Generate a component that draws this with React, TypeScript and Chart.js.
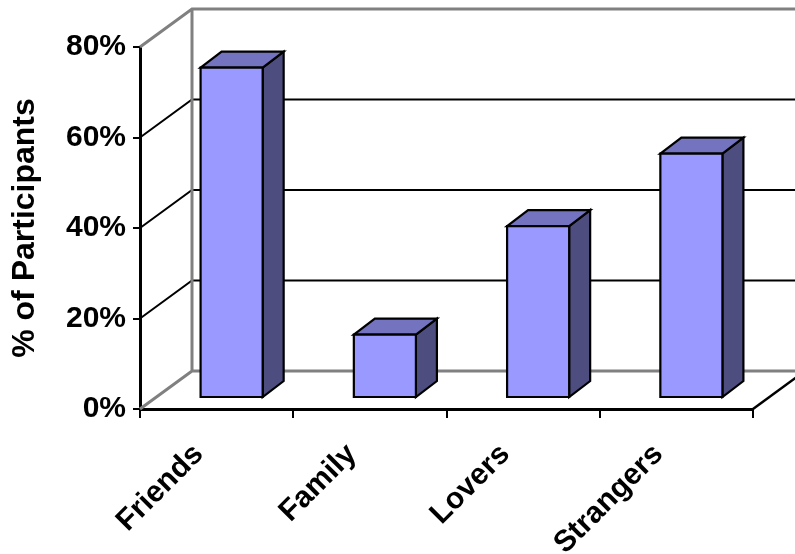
import { useEffect, useRef } from 'react';
import { Chart, registerables } from 'chart.js';

Chart.register(...registerables);

const categories = ['Friends', 'Family', 'Lovers', 'Strangers'];
const participantPct = [73, 14, 38, 54];
const yTickValues = [0, 20, 40, 60, 80];
const yAxisTitle = '% of Participants';

const FONT = '"Liberation Sans", Arial, Helvetica, sans-serif';
const FRONT = '#9999FF';
const TOP = '#7373BF';
const SIDE = '#4D4D80';
const WALL = { dx: 52, dy: -38 };
const BAR_SHIFT = { dx: 15, dy: -11 };
const BAR_DEPTH = { dx: 21, dy: -16 };

const excel3d = {
  id: 'excel3d',
  beforeDatasetsDraw(chart: any) {
    const { ctx, chartArea: a, scales } = chart;
    const y = scales.y;
    const L = a.left;
    const R = a.right;
    const B = y.getPixelForValue(yTickValues[0]);
    const T = y.getPixelForValue(yTickValues[yTickValues.length - 1]);
    const far = chart.width + 40;
    ctx.save();
    ctx.lineCap = 'butt';
    ctx.lineJoin = 'miter';
    ctx.strokeStyle = '#000';
    ctx.lineWidth = 2;
    yTickValues.slice(1, -1).forEach((v) => {
      const py = y.getPixelForValue(v);
      ctx.beginPath();
      ctx.moveTo(L, py);
      ctx.lineTo(L + WALL.dx, py + WALL.dy);
      ctx.lineTo(far, py + WALL.dy);
      ctx.stroke();
    });
    ctx.strokeStyle = '#808080';
    ctx.lineWidth = 3;
    ctx.beginPath();
    ctx.moveTo(L, T);
    ctx.lineTo(L + WALL.dx, T + WALL.dy);
    ctx.lineTo(far, T + WALL.dy);
    ctx.moveTo(L + WALL.dx, T + WALL.dy);
    ctx.lineTo(L + WALL.dx, B + WALL.dy);
    ctx.moveTo(L, B);
    ctx.lineTo(L + WALL.dx, B + WALL.dy);
    ctx.lineTo(far, B + WALL.dy);
    ctx.stroke();
    ctx.strokeStyle = '#000';
    ctx.lineWidth = 2.5;
    ctx.beginPath();
    ctx.moveTo(R, B);
    ctx.lineTo(R + WALL.dx, B + WALL.dy);
    ctx.stroke();
    ctx.restore();
  },
  afterDatasetsDraw(chart: any) {
    const { ctx } = chart;
    const meta = chart.getDatasetMeta(0);
    ctx.save();
    ctx.lineWidth = 2.2;
    ctx.strokeStyle = '#000';
    ctx.lineJoin = 'miter';
    meta.data.forEach((el: any) => {
      const p = el.getProps(['x', 'y', 'base', 'width'], true);
      const l = p.x - p.width / 2 + BAR_SHIFT.dx;
      const r = p.x + p.width / 2 + BAR_SHIFT.dx;
      const t = p.y + BAR_SHIFT.dy;
      const b = p.base + BAR_SHIFT.dy;
      const ddx = BAR_DEPTH.dx;
      const ddy = BAR_DEPTH.dy;
      ctx.beginPath();
      ctx.moveTo(r, t);
      ctx.lineTo(r + ddx, t + ddy);
      ctx.lineTo(r + ddx, b + ddy);
      ctx.lineTo(r, b);
      ctx.closePath();
      ctx.fillStyle = SIDE;
      ctx.fill();
      ctx.stroke();
      ctx.beginPath();
      ctx.moveTo(l, t);
      ctx.lineTo(l + ddx, t + ddy);
      ctx.lineTo(r + ddx, t + ddy);
      ctx.lineTo(r, t);
      ctx.closePath();
      ctx.fillStyle = TOP;
      ctx.fill();
      ctx.stroke();
      ctx.beginPath();
      ctx.rect(l, t, r - l, b - t);
      ctx.fillStyle = FRONT;
      ctx.fill();
      ctx.stroke();
    });
    ctx.restore();
  },
};

export default function App() {
  const ref = useRef<HTMLCanvasElement | null>(null);
  useEffect(() => {
    if (!ref.current) return;
    const chart = new Chart(ref.current, {
      type: 'bar',
      data: {
        labels: categories,
        datasets: [
          {
            label: yAxisTitle,
            data: participantPct,
            backgroundColor: 'rgba(0,0,0,0)',
            borderWidth: 0,
            barPercentage: 0.405,
            categoryPercentage: 1,
          },
        ],
      },
      options: {
        animation: false,
        responsive: false,
        devicePixelRatio: 1,
        layout: { padding: { top: 47, right: 42, left: 0, bottom: 0 } },
        plugins: { legend: { display: false }, tooltip: { enabled: false } },
        scales: {
          x: {
            afterFit: (s: any) => {
              s.height = 145;
            },
            grid: {
              display: true,
              drawOnChartArea: false,
              drawTicks: true,
              tickLength: 9,
              color: '#000',
              lineWidth: 2,
              offset: true,
            },
            border: { display: true, color: '#000', width: 3 },
            ticks: {
              color: '#000',
              font: { family: FONT, size: 30, weight: 'bold' },
              maxRotation: 45,
              minRotation: 45,
              padding: 19,
              labelOffset: -18,
              autoSkip: false,
            },
          },
          y: {
            min: 0,
            max: 80,
            afterFit: (s: any) => {
              s.width = 140;
            },
            afterBuildTicks: (s: any) => {
              s.ticks = yTickValues.map((v) => ({ value: v }));
            },
            grid: {
              display: true,
              drawOnChartArea: false,
              drawTicks: true,
              tickLength: 7,
              color: '#000',
              lineWidth: 2,
            },
            border: { display: true, color: '#000', width: 3 },
            ticks: {
              color: '#000',
              font: { family: FONT, size: 30, weight: 'bold' },
              padding: 7,
              callback: (v: any) => `${v}%`,
            },
            title: {
              display: true,
              text: yAxisTitle,
              color: '#000',
              font: { family: FONT, size: 32, weight: 'bold' },
              padding: { top: 6, bottom: 0 },
            },
          },
        },
      },
      plugins: [excel3d],
    });
    return () => chart.destroy();
  }, []);
  return (
    <div style={{ position: 'fixed', left: 0, top: 0, width: 795, height: 554, background: '#fff' }}>
      <canvas ref={ref} width={795} height={554} style={{ display: 'block', width: 795, height: 554 }} />
    </div>
  );
}
